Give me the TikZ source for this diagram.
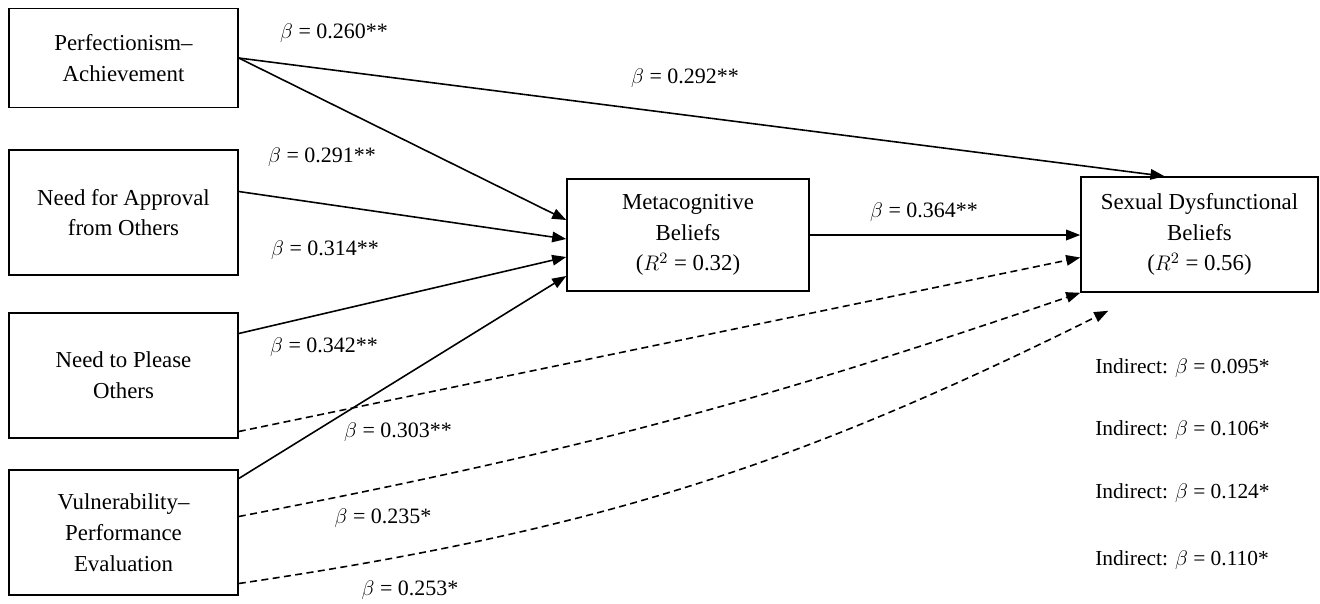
\documentclass[tikz,border=0pt]{standalone}
\usepackage{fontspec}
\setmainfont{Liberation Serif}
\usetikzlibrary{arrows.meta, positioning, calc}
\tikzset{
    varbox/.style={
        rectangle, draw=black, line width=0.9pt, fill=white,
        align=center, inner sep=2pt, font=\fontsize{13}{17.5}\selectfont
    },
    effect/.style={draw=black, line width=0.9pt, -{Triangle[length=8pt, width=6pt]}},
    indirect/.style={effect, dash pattern=on 4pt off 2.5pt},
    coef/.style={font=\fontsize{12.5}{15}\selectfont, inner sep=0pt},
    indlabel/.style={coef, anchor=west, font=\fontsize{12.2}{15}\selectfont}
}

\begin{document}
\begin{tikzpicture}[x=0.02cm, y=-0.02cm]
    \useasboundingbox (0,0) rectangle (1320,603);

    % Predictors
    \node[varbox, minimum width=4.58cm, minimum height=1.98cm] (pa) at (123.5,58) {Perfectionism–\\Achievement};
    \node[varbox, minimum width=4.58cm, minimum height=2.5cm] (na) at (123.5,212.5) {Need for Approval\\from Others};
    \node[varbox, minimum width=4.58cm, minimum height=2.5cm] (np) at (123.5,375.5) {Need to Please\\Others};
    \node[varbox, minimum width=4.58cm, minimum height=2.5cm] (vp) at (123.5,532.5) {Vulnerability–\\Performance\\Evaluation};

    % Mediator and outcome
    \node[varbox, minimum width=4.84cm, minimum height=2.24cm] (meta) at (688,235) {Metacognitive\\Beliefs\\($R^2$ = 0.32)};
    \node[varbox, minimum width=4.74cm, minimum height=2.3cm] (sd) at (1199.5,234.5) {Sexual Dysfunctional\\Beliefs\\($R^2$ = 0.56)};
    \coordinate (free) at ($(sd.south west)+(28,18)$);

    % Direct paths
    \draw[effect] (pa.east) -- ($(sd.north)+(-35,0)$);
    \draw[effect] (pa.east) -- ($(meta.west)+(0,-15)$);
    \draw[effect] ($(na.east)+(0,-21)$) -- ($(meta.west)+(0,4)$);
    \draw[effect] ($(np.east)+(0,-42)$) -- ($(meta.west)+(0,22)$);
    \draw[effect] ($(vp.east)+(0,-54)$) -- ($(meta.west)+(0,41)$);
    \draw[effect] (meta.east) -- (meta.east -| sd.west);

    % Indirect paths
    \draw[indirect] ($(np.east)+(0,56)$) -- ($(sd.west)+(0,23)$);
    \draw[indirect] ($(vp.east)+(0,-16)$) to[bend right=4] (sd.south west);
    \draw[indirect] ($(vp.east)+(0,51)$) to[bend right=9] (free);

    % Coefficients
    \node[coef] (c1) at (334,33) {$\beta$ = 0.260**};
    \node[coef] (c2) at (685,78) {$\beta$ = 0.292**};
    \node[coef] (c3) at (322,157) {$\beta$ = 0.291**};
    \node[coef] (c4) at (325,250) {$\beta$ = 0.314**};
    \node[coef] (c5) at (324,347) {$\beta$ = 0.342**};
    \node[coef] (c6) at (398,432) {$\beta$ = 0.303**};
    \node[coef] (c7) at (383,518) {$\beta$ = 0.235*};
    \node[coef] (c8) at (410,590) {$\beta$ = 0.253*};
    \node[coef] (c9) at (924,212) {$\beta$ = 0.364**};

    % Indirect effects
    \foreach \yy/\val [count=\i] in {368/0.095, 430/0.106, 493/0.124, 560/0.110} {
        \node[indlabel] (ind\i) at (1095,\yy) {Indirect: $\beta$ = \val*};
    }
\end{tikzpicture}
\end{document}
